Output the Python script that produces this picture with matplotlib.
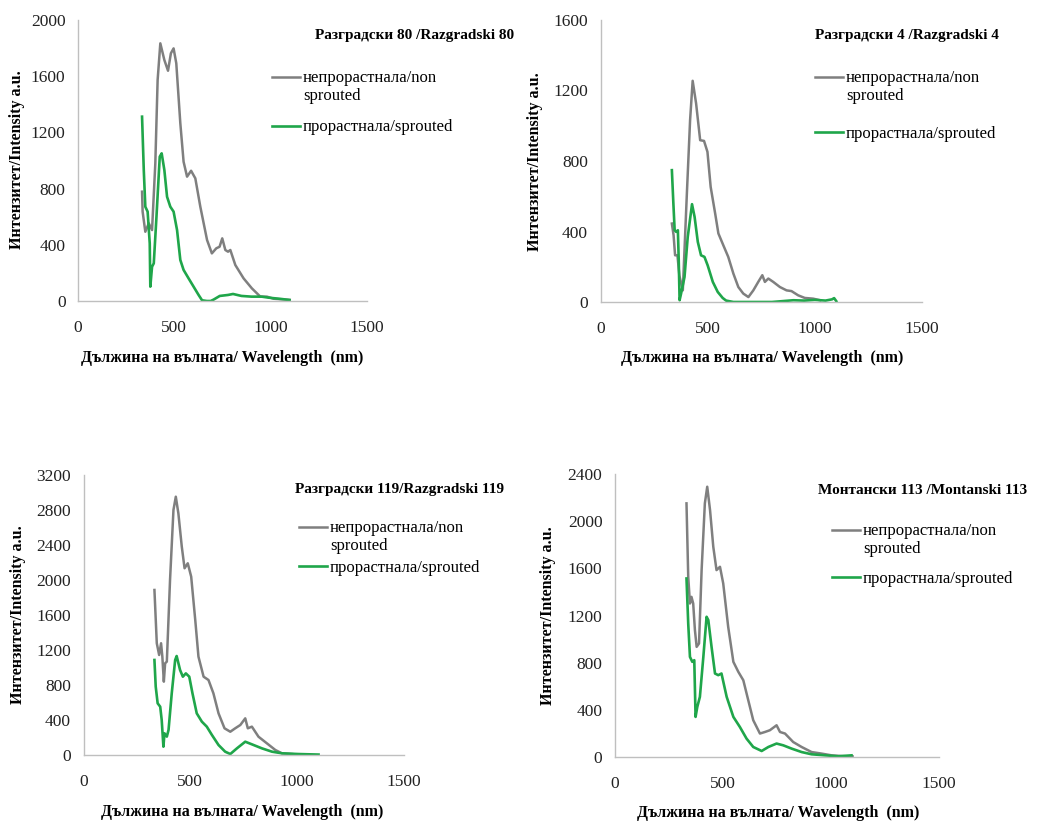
import matplotlib
matplotlib.use('Agg')
import matplotlib.pyplot as plt
from matplotlib.legend_handler import HandlerLine2D

plt.rcParams['font.family'] = ['Liberation Serif', 'DejaVu Serif']

# --- data (wavelength nm, intensity a.u.) ---
r80_wl_non = [333, 336, 350, 368, 385, 402, 414, 428, 449, 468, 483, 497, 511, 532, 549, 567, 588, 610,
              636, 671, 696, 719, 736, 750, 766, 780, 792, 818, 861, 904, 948, 982, 1017, 1060, 1100]
r80_non = [778, 636, 493, 553, 505, 980, 1573, 1834, 1715, 1639, 1763, 1798, 1692, 1265, 991, 885, 927, 873,
           671, 434, 339, 375, 386, 446, 363, 351, 363, 256, 161, 90, 31, 31, 16, 12, 8]
r80_wl_spr = [333, 342, 350, 362, 373, 376, 385, 394, 408, 425, 435, 449, 463, 480, 497, 515, 532, 549, 575,
              601, 627, 645, 670, 690, 705, 737, 780, 806, 850, 902, 955, 990, 1060, 1100]
r80_spr = [1312, 932, 671, 636, 410, 102, 244, 268, 600, 1027, 1051, 932, 742, 671, 636, 505, 292, 221, 161,
           102, 43, 5, 0, 0, 10, 36, 43, 50, 36, 31, 31, 24, 14, 7]

r4_wl_non = [333, 341, 348, 359, 368, 384, 403, 418, 430, 446, 465, 483, 499, 514, 535, 550, 573, 596, 620,
             643, 666, 690, 713, 736, 755, 767, 783, 806, 837, 868, 891, 922, 953, 992, 1025]
r4_non = [445, 379, 265, 265, 150, 66, 616, 1032, 1255, 1127, 918, 914, 852, 653, 502, 389, 322, 256, 161,
          85, 48, 28, 66, 114, 152, 114, 133, 114, 85, 66, 62, 38, 23, 19, 10]
r4_wl_spr = [333, 340, 346, 353, 361, 365, 369, 376, 392, 407, 427, 439, 454, 469, 485, 500, 524, 547, 570,
             586, 620, 700, 800, 850, 900, 950, 1000, 1050, 1080, 1090, 1100]
r4_spr = [748, 559, 407, 398, 407, 237, 10, 48, 142, 369, 555, 483, 341, 265, 256, 208, 114, 57, 23,
          8, 0, 0, 0, 5, 10, 8, 12, 8, 15, 22, 5]

r119_wl_non = [332, 343, 354, 363, 369, 376, 382, 390, 405, 421, 432, 444, 460, 473, 488, 504, 523, 538, 562,
               585, 608, 632, 660, 687, 710, 734, 757, 769, 788, 819, 858, 898, 929, 976, 1000]
r119_non = [1886, 1277, 1143, 1277, 1124, 838, 1048, 1067, 2000, 2800, 2952, 2762, 2381, 2134, 2191, 2038,
            1543, 1124, 895, 857, 705, 476, 305, 266, 305, 343, 419, 305, 324, 209, 134, 57, 19, 11, 5]
r119_wl_spr = [332, 338, 347, 359, 366, 374, 379, 390, 398, 413, 429, 436, 452, 465, 479, 495, 510, 530, 554,
               577, 601, 632, 663, 687, 718, 757, 788, 835, 882, 929, 1007, 1100]
r119_spr = [1086, 781, 591, 552, 400, 95, 248, 210, 286, 705, 1086, 1131, 971, 895, 933, 895, 705, 476, 381,
            324, 229, 114, 38, 11, 76, 152, 122, 76, 38, 19, 11, 5]

m113_wl_non = [331, 339, 347, 354, 362, 370, 378, 389, 401, 416, 427, 440, 455, 470, 486, 501, 524, 548, 571,
               594, 617, 640, 671, 694, 717, 748, 764, 787, 825, 864, 910, 956, 1003, 1050, 1100]
m113_non = [2151, 1528, 1302, 1358, 1302, 1076, 934, 963, 1585, 2151, 2292, 2094, 1783, 1585, 1613, 1472,
            1104, 807, 722, 651, 481, 312, 199, 212, 227, 269, 212, 199, 127, 85, 42, 29, 14, 8, 5]
m113_wl_spr = [331, 339, 347, 358, 367, 373, 381, 393, 409, 424, 432, 447, 463, 478, 493, 517, 548, 578, 609,
               640, 679, 710, 748, 779, 818, 864, 910, 972, 1034, 1095]
m113_spr = [1514, 1132, 849, 807, 821, 340, 425, 510, 849, 1189, 1161, 934, 708, 694, 708, 510, 340, 255, 156,
            85, 51, 85, 114, 99, 71, 42, 23, 14, 6, 14]

titles = ['Разградски 80 /Razgradski 80', 'Разградски 4 /Razgradski 4',
          'Разградски 119/Razgradski 119', 'Монтански 113 /Montanski 113']
label_non = 'непрорастнала/non\nsprouted'
label_spr = 'прорастнала/sprouted'
xlabel = 'Дължина на вълната/ Wavelength  (nm)'
ylabel = 'Интензитет/Intensity a.u.'
ymax = [2000, 1600, 3200, 2400]

series = [
    (r80_wl_non, r80_non, r80_wl_spr, r80_spr),
    (r4_wl_non, r4_non, r4_wl_spr, r4_spr),
    (r119_wl_non, r119_non, r119_wl_spr, r119_spr),
    (m113_wl_non, m113_non, m113_wl_spr, m113_spr),
]

W, H = 1060, 823
GRAY = '#7f7f7f'
GREEN = '#1fa64a'


def fx(px):
    return px / W


def fy(py):
    return 1 - py / H


class HandlerFirstLine(HandlerLine2D):
    # Excel puts the legend line next to the first line of a wrapped label
    def create_artists(self, legend, orig_handle, xdescent, ydescent, width, height, fontsize, trans):
        arts = super().create_artists(legend, orig_handle, xdescent, ydescent, width, height, fontsize, trans)
        for a in arts:
            a.set_ydata([y + 0.62 * fontsize for y in a.get_ydata()])
        return arts


# axes boxes in pixels: left, top, right, bottom
boxes = [(78, 20, 366.5, 301), (600.5, 20, 922, 302), (83.5, 475, 404, 755), (615, 474, 939, 757)]
# layout of texts: title (x left, y), legend (x, y top), labelspacing, ylabel (x, y), xlabel (x, y)
title_pos = [(315, 35), (815, 35), (295, 490), (818, 490)]
legend_pos = [(272, 70), (815, 70), (299, 520), (832, 523)]
legend_gap = [0.9, 1.3, 0.35, 0.8]
ylab_pos = [(17, 160), (535, 162), (18, 615), (548, 616)]
xlab_pos = [(222, 358), (762, 358), (242, 812), (778, 813)]

fig = plt.figure(figsize=(W / 100, H / 100), dpi=100)

for i, (wl_n, v_n, wl_s, v_s) in enumerate(series):
    l, t, r, b = boxes[i]
    ax = fig.add_axes([fx(l), fy(b), fx(r) - fx(l), fy(t) - fy(b)])
    h1, = ax.plot(wl_n, v_n, color=GRAY, lw=1.8, label=label_non)
    h2, = ax.plot(wl_s, v_s, color=GREEN, lw=1.9, label=label_spr)
    ax.set_xlim(0, 1500)
    ax.set_ylim(0, ymax[i])
    ax.set_xticks([0, 500, 1000, 1500])
    ax.set_yticks(range(0, ymax[i] + 1, 400))
    for s in ['top', 'right']:
        ax.spines[s].set_visible(False)
    for s in ['left', 'bottom']:
        ax.spines[s].set_color('#bfbfbf')
        ax.spines[s].set_linewidth(1.0)
    ax.tick_params(axis='both', length=0, labelsize=12.5, labelcolor='#222222')
    ax.tick_params(axis='x', pad=14)
    ax.tick_params(axis='y', pad=9)
    ax.patch.set_alpha(0)

    fig.text(fx(title_pos[i][0]), fy(title_pos[i][1]), titles[i], fontsize=11, fontweight='bold',
             ha='left', va='center')
    fig.text(fx(ylab_pos[i][0]), fy(ylab_pos[i][1]), ylabel, fontsize=11.5, fontweight='bold',
             rotation=90, ha='center', va='center')
    fig.text(fx(xlab_pos[i][0]), fy(xlab_pos[i][1]), xlabel, fontsize=11.5, fontweight='bold',
             ha='center', va='center')
    fig.legend(handles=[h1, h2], loc='upper left',
               bbox_to_anchor=(fx(legend_pos[i][0]), fy(legend_pos[i][1])),
               frameon=False, fontsize=12, handlelength=1.7, handletextpad=0.15,
               labelspacing=legend_gap[i], borderpad=0, borderaxespad=0,
               handler_map={h1: HandlerFirstLine()})

fig.savefig('out.png', dpi=100)
